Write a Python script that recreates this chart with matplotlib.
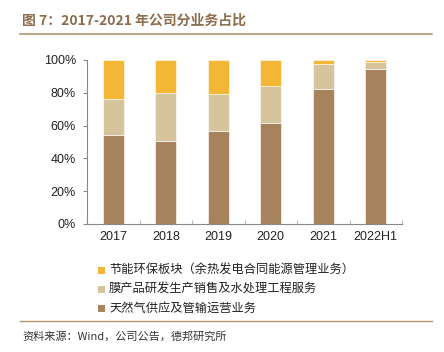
import matplotlib
matplotlib.use("Agg")
import matplotlib.pyplot as plt
from matplotlib.lines import Line2D
from matplotlib.patches import Rectangle
import numpy as np

plt.rcParams['font.family'] = ['Noto Sans CJK SC', 'DejaVu Sans']

categories = ["2017", "2018", "2019", "2020", "2021", "2022H1"]
gas = [54.5, 50.8, 56.9, 61.8, 82.5, 94.7]
membrane = [21.7, 29.1, 22.2, 22.3, 15.3, 4.2]
energy = [23.8, 20.1, 20.9, 15.9, 2.2, 1.1]
series_names = ["节能环保板块（余热发电合同能源管理业务）",
                "膜产品研发生产销售及水处理工程服务",
                "天然气供应及管输运营业务"]
yticks = [0, 20, 40, 60, 80, 100]
ytick_labels = ["0%", "20%", "40%", "60%", "80%", "100%"]

c_energy = "#F4B735"
c_mem = "#D5C49C"
c_gas = "#A6835C"

fig = plt.figure(figsize=(4.44, 3.52), dpi=100)
W, H = 444, 352
ax = fig.add_axes([87 / W, 1 - 224 / H, (402 - 87) / W, (224 - 60) / H])

x = np.arange(len(categories))
bw = 0.4
kw = dict(width=bw, edgecolor="white", linewidth=0.4)
ax.bar(x, gas, color=c_gas, **kw)
ax.bar(x, membrane, bottom=gas, color=c_mem, **kw)
bot2 = np.array(gas) + np.array(membrane)
ax.bar(x, energy, bottom=bot2, color=c_energy, **kw)

ax.set_xlim(-0.5, len(categories) - 0.5)
ax.set_ylim(0, 100)
ax.set_yticks(yticks)
ax.set_yticklabels(ytick_labels, family=['Liberation Sans'], fontsize=9, color="#222222")
ax.set_xticks(x)
ax.set_xticklabels(categories, family=['Liberation Sans'], fontsize=9, color="#222222")
ax.tick_params(axis="x", length=0, pad=5)
ax.tick_params(axis="y", length=3, color="#888888", width=0.8, pad=5)
ax.set_xticks(np.arange(-0.5, len(categories)), minor=True)
ax.tick_params(axis="x", which="minor", length=3, color="#bbbbbb", width=0.8, direction="in")
for s in ["top", "right"]:
    ax.spines[s].set_visible(False)
ax.spines["left"].set_color("#888888")
ax.spines["bottom"].set_color("#888888")
ax.spines["left"].set_linewidth(0.8)
ax.spines["bottom"].set_linewidth(0.8)

# Title
fig.text(22 / W, 1 - 21 / H, "图 7：2017-2021 年公司分业务占比", fontsize=10,
         fontweight="bold", color="#8C6D4C", va="center", ha="left")
fig.add_artist(Line2D([20 / W, 432 / W], [1 - 34 / H, 1 - 34 / H], color="#B39470", linewidth=1.2))

# Legend
leg_colors = [c_energy, c_mem, c_gas]
leg_y = [270, 289, 308]
for name, col, yy in zip(series_names, leg_colors, leg_y):
    fig.add_artist(Rectangle((98 / W, 1 - (yy + 3.5) / H), 7 / W, 7 / H, facecolor=col, edgecolor="none"))
    fig.text(109 / W, 1 - yy / H, name, fontsize=8.8, color="#222222", va="center", ha="left")

fig.add_artist(Line2D([20 / W, 432 / W], [1 - 321 / H, 1 - 321 / H], color="#B39470", linewidth=1.0))
fig.text(22 / W, 1 - 336 / H, "资料来源：Wind，公司公告，德邦研究所", fontsize=8, color="#333333",
         va="center", ha="left")

fig.savefig("out.png", dpi=100)
